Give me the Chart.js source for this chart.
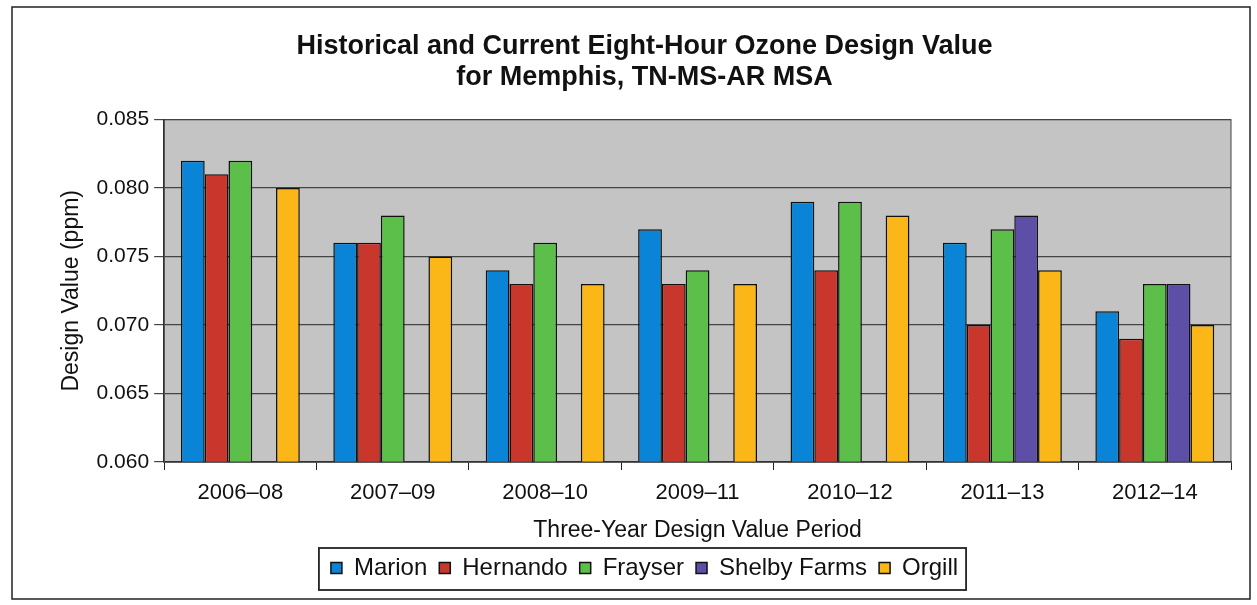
<!DOCTYPE html>
<html>
<head>
<meta charset="utf-8">
<script src="https://cdn.jsdelivr.net/npm/chart.js@4"></script>
<style>
  html, body { margin: 0; padding: 0; background: #fff; }
  #wrap { width: 1257px; height: 605px; }
</style>
</head>
<body>
<div id="wrap"><canvas id="grafico" width="1257" height="605"></canvas></div>
<script>
const periodos = ["2006–08", "2007–09", "2008–10", "2009–11", "2010–12", "2011–13", "2012–14"];
const marion = [0.082, 0.076, 0.074, 0.077, 0.079, 0.076, 0.071];
const hernando = [0.081, 0.076, 0.073, 0.073, 0.074, 0.070, 0.069];
const frayser = [0.082, 0.078, 0.076, 0.074, 0.079, 0.077, 0.073];
const shelbyFarms = [null, null, null, null, null, 0.078, 0.073];
const orgill = [0.080, 0.075, 0.073, 0.073, 0.078, 0.074, 0.070];
const yTicks = [0.060, 0.065, 0.070, 0.075, 0.080, 0.085];

const fuente = "'Liberation Sans', Arial, sans-serif";

// grey plot background, outer frame and legend frame
const marco = {
  id: "marco",
  beforeDraw(chart) {
    const { ctx, chartArea: a } = chart;
    ctx.save();
    ctx.fillStyle = "#c4c4c4";
    ctx.fillRect(a.left, a.top, a.right - a.left, a.bottom - a.top);
    ctx.restore();
  },
  afterDraw(chart) {
    const { ctx, chartArea: a } = chart;
    ctx.save();
    ctx.strokeStyle = "#222";
    ctx.lineWidth = 1.5;
    ctx.strokeRect(12, 7, 1238, 592);
    ctx.strokeStyle = "#444";
    ctx.lineWidth = 1;
    ctx.strokeRect(a.left, a.top, a.right - a.left, a.bottom - a.top);
    const cajas = chart.legend.legendHitBoxes;
    if (cajas && cajas.length) {
      const x0 = Math.min(...cajas.map((b) => b.left)) - 12;
      const x1 = Math.max(...cajas.map((b) => b.left + b.width)) + 8;
      const y0 = Math.min(...cajas.map((b) => b.top)) - 8;
      const y1 = Math.max(...cajas.map((b) => b.top + b.height)) + 10;
      ctx.strokeStyle = "#222";
      ctx.lineWidth = 1.8;
      ctx.strokeRect(x0, y0, x1 - x0, y1 - y0);
    }
    ctx.restore();
  },
};

const serie = (label, data, color) => ({
  label,
  data,
  backgroundColor: color,
  borderColor: "#111",
  borderWidth: 1.5,
  categoryPercentage: 0.78,
  barPercentage: 1.0,
});

new Chart(document.getElementById("grafico"), {
  type: "bar",
  data: {
    labels: periodos,
    datasets: [
      serie("Marion", marion, "#0a84d6"),
      serie("Hernando", hernando, "#c9372c"),
      serie("Frayser", frayser, "#5bbf4a"),
      serie("Shelby Farms", shelbyFarms, "#5d4ea8"),
      serie("Orgill", orgill, "#fbb618"),
    ],
  },
  options: {
    responsive: false,
    animation: false,
    layout: { padding: { left: 58, right: 26, top: 25, bottom: 15 } },
    plugins: {
      title: {
        display: true,
        text: ["Historical and Current Eight-Hour Ozone Design Value", "for Memphis, TN-MS-AR MSA"],
        color: "#111",
        font: { family: fuente, size: 27, weight: "bold", lineHeight: 1.14 },
        padding: { top: 6, bottom: 27 },
      },
      legend: {
        position: "bottom",
        labels: {
          color: "#111",
          font: { family: fuente, size: 24 },
          boxWidth: 11,
          boxHeight: 11,
          padding: 12,
        },
      },
      tooltip: { enabled: false },
    },
    scales: {
      x: {
        offset: true,
        grid: { display: true, drawOnChartArea: false, offset: true, color: "#222", tickLength: 8 },
        border: { color: "#222", width: 1.5 },
        ticks: { color: "#111", font: { family: fuente, size: 22 }, padding: 10 },
        title: {
          display: true,
          text: "Three-Year Design Value Period",
          color: "#111",
          font: { family: fuente, size: 23 },
          padding: { top: 0, bottom: 0 },
        },
      },
      y: {
        min: 0.06,
        max: 0.085,
        afterBuildTicks(axis) {
          axis.ticks = yTicks.map((v) => ({ value: v }));
        },
        grid: { color: "#444", lineWidth: 1.2, tickLength: 10 },
        border: { color: "#222", width: 1.5 },
        ticks: {
          color: "#111",
          font: { family: fuente, size: 21 },
          padding: 5,
          callback: (v) => Number(v).toFixed(3),
        },
        title: {
          display: true,
          text: "Design Value (ppm)",
          color: "#111",
          font: { family: fuente, size: 23 },
          padding: { top: 0, bottom: 6 },
        },
      },
    },
  },
  plugins: [marco],
});
</script>
</body>
</html>
